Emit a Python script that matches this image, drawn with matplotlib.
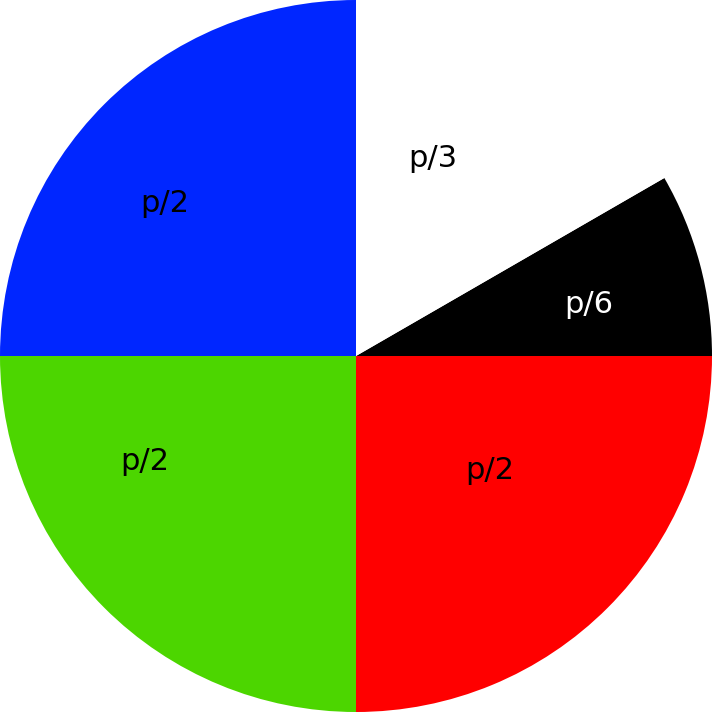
import matplotlib
matplotlib.use("Agg")
import matplotlib.pyplot as plt
import numpy as np

labels = ["p/6", "p/3", "p/2", "p/2", "p/2"]
values = [30, 60, 90, 90, 90]
colors = ["#000000", "#ffffff", "#0026ff", "#4cd600", "#ff0000"]
text_colors = ["white", "black", "black", "black", "black"]
# label placement (angle in degrees, radius as fraction of pie radius)
label_angles = [13, 69, 141, 206, 320]
label_radii = [0.67, 0.60, 0.69, 0.66, 0.49]

fig = plt.figure(figsize=(7.12, 7.12), dpi=100)
ax = fig.add_axes([0, 0, 1, 1])
wedges, _ = ax.pie(values, colors=colors, startangle=0, counterclock=True,
                   radius=1.0, wedgeprops=dict(linewidth=0))
for lab, tc, a, r in zip(labels, text_colors, label_angles, label_radii):
    t = np.deg2rad(a)
    ax.text(r * np.cos(t), r * np.sin(t) - 0.006, lab, color=tc, fontsize=22,
            ha="center", va="center", family="DejaVu Sans")
ax.set_xlim(-1, 1)
ax.set_ylim(-1, 1)
ax.set_aspect("equal")
ax.axis("off")
fig.savefig("out.png", dpi=100)
